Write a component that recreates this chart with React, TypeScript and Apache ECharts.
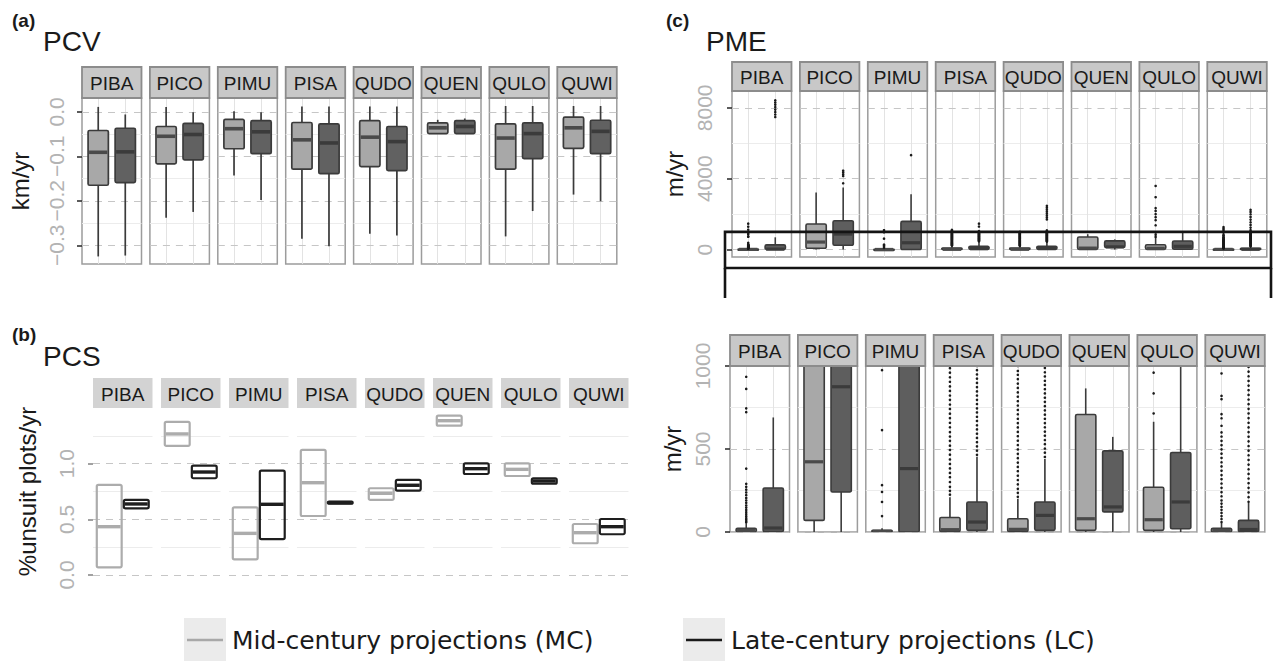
import React, { useEffect, useRef } from "react";
import * as echarts from "echarts";

const species = ["PIBA", "PICO", "PIMU", "PISA", "QUDO", "QUEN", "QULO", "QUWI"];

// (a) PCV, km/yr: [lower whisker, Q1, median, Q3, upper whisker]
const pcvMC = [
  [-0.325, -0.165, -0.091, -0.042, 0.011],
  [-0.238, -0.117, -0.055, -0.033, 0.011],
  [-0.143, -0.083, -0.038, -0.017, 0.001],
  [-0.285, -0.129, -0.063, -0.024, 0.012],
  [-0.274, -0.123, -0.057, -0.02, 0.012],
  [-0.05, -0.049, -0.036, -0.025, -0.018],
  [-0.28, -0.129, -0.059, -0.027, 0.013],
  [-0.186, -0.082, -0.036, -0.012, 0.013],
];
const pcvLC = [
  [-0.323, -0.159, -0.09, -0.037, -0.006],
  [-0.225, -0.108, -0.051, -0.026, -0.001],
  [-0.198, -0.094, -0.045, -0.02, -0.001],
  [-0.302, -0.139, -0.07, -0.027, 0.012],
  [-0.278, -0.132, -0.067, -0.033, 0.012],
  [-0.05, -0.049, -0.033, -0.02, -0.015],
  [-0.223, -0.105, -0.049, -0.025, 0.013],
  [-0.201, -0.094, -0.044, -0.019, 0.013],
];

// (b) PCS, %unsuit plots/yr: [lower, middle, upper]
const pcsMC = [
  [0.069, 0.434, 0.809],
  [1.159, 1.267, 1.375],
  [0.141, 0.374, 0.608],
  [0.53, 0.829, 1.123],
  [0.674, 0.734, 0.779],
  [1.341, 1.386, 1.431],
  [0.889, 0.949, 1.003],
  [0.285, 0.38, 0.458],
];
const pcsLC = [
  [0.599, 0.638, 0.674],
  [0.869, 0.925, 0.982],
  [0.323, 0.635, 0.937],
  [0.64, 0.65, 0.66],
  [0.758, 0.806, 0.854],
  [0.907, 0.955, 1.003],
  [0.82, 0.845, 0.869],
  [0.366, 0.434, 0.503],
];

// (c) PME, m/yr: [lower whisker, Q1, median, Q3, upper whisker]
const pmeMC = [
  [0, 2, 10, 22, 52],
  [0, 70, 423, 1440, 3215],
  [0, 1, 4, 10, 22],
  [0, 3, 14, 87, 210],
  [0, 3, 16, 80, 200],
  [0, 10, 80, 708, 865],
  [0, 10, 74, 270, 664],
  [0, 1, 10, 22, 55],
];
const pmeLC = [
  [0, 3, 24, 265, 690],
  [0, 241, 875, 1627, 3500],
  [0, 0, 382, 1590, 3125],
  [0, 10, 60, 181, 453],
  [0, 10, 100, 181, 440],
  [0, 121, 151, 489, 573],
  [0, 20, 181, 479, 1010],
  [0, 2, 15, 70, 175],
];
const pmeOutMC = [
  [58, 66, 75, 84, 95, 108, 120, 133, 147, 160, 176, 190, 205, 222, 238, 255, 272, 290, 382, 722, 745, 862, 935, 1120, 1290, 1460],
  [],
  [96, 181, 241, 282, 614, 975, 1090],
  [225, 248, 272, 301, 330, 356, 383, 410, 437, 466, 494, 520, 549, 575, 602, 631, 658, 686, 713, 741, 768, 796, 822, 850, 877, 905, 932, 960, 987, 1020, 1065, 1110],
  [212, 236, 260, 287, 313, 339, 366, 392, 418, 445, 471, 497, 524, 550, 577, 603, 630, 656, 682, 709, 735, 762, 788, 815, 841, 868, 894, 921, 947, 970, 1000],
  [],
  [714, 835, 960, 1370, 1660, 1830, 2000, 2180, 2340, 2955, 3590],
  [60, 78, 96, 115, 134, 152, 171, 190, 215, 240, 266, 292, 318, 343, 369, 395, 420, 446, 472, 498, 523, 549, 575, 600, 640, 685, 710, 800, 820, 955, 1090, 1180, 1270],
];
const pmeOutLC = [
  [7480, 7620, 7760, 7900, 8040, 8180, 8300, 8420],
  [3740, 4150, 4250, 4350, 4450],
  [5330],
  [465, 490, 516, 541, 567, 592, 618, 643, 669, 694, 720, 745, 771, 796, 822, 847, 873, 898, 924, 949, 975, 1000, 1040, 1300, 1460],
  [452, 478, 503, 529, 554, 580, 605, 631, 656, 682, 707, 733, 758, 784, 809, 835, 860, 886, 911, 937, 962, 988, 1020, 1080, 1700, 1810, 1920, 2030, 2140, 2250, 2360, 2470],
  [],
  [],
  [182, 210, 238, 266, 294, 322, 350, 378, 406, 434, 462, 490, 518, 546, 574, 602, 630, 658, 686, 714, 742, 770, 798, 826, 854, 882, 910, 938, 966, 994, 1090, 1240, 1390, 1540, 1690, 1840, 1990, 2120, 2240],
];

const pcvTicks = [-0.3, -0.2, -0.1, 0];
const pcvMinor = [-0.25, -0.15, -0.05];
const pcsTicks = [0, 0.5, 1];
const pcsMinor = [0.25, 0.75, 1.25];
const pmeTopTicks = [0, 4000, 8000];
const pmeTopMinor = [2000, 6000];
const pmeBotTicks = [0, 500, 1000];
const pmeBotMinor = [250, 750];
const pmeZoomLimit = 1000;

const legendLabels = ["Mid-century projections (MC)", "Late-century projections (LC)"];

const FONT = '"Liberation Sans", Arial, sans-serif';
const LFONT = '"DejaVu Sans", Verdana, sans-serif';

const fmt1 = (v: number) => (v < -1e-9 ? "\u2212" : "") + Math.abs(v).toFixed(1);
const fmt0 = (v: number) => String(Math.round(v));

const boxA = { bw: 0.75, whisker: true, fill: ["#a8a8a8", "#616161"], stroke: ["#3b3b3b", "#3b3b3b"], med: ["#4a4a4a", "#3b3b3b"], lw: 1.7, medW: 3.6 };
const boxB = { bw: 0.92, whisker: false, fill: ["none", "none"], stroke: ["#acacac", "#1e1e1e"], med: ["#acacac", "#1e1e1e"], lw: 2.2, medW: 3.4 };
const boxC = { bw: 0.75, whisker: true, fill: ["#a8a8a8", "#5e5e5e"], stroke: ["#3b3b3b", "#3b3b3b"], med: ["#4a4a4a", "#3b3b3b"], lw: 1.6, medW: 3.2 };

const toFive = (r: number[]) => [r[0], r[0], r[1], r[2], r[2]];

const panels: any[] = [
  { left0: 82, step: 67.9, w: 59.5, stripTop: 67, stripH: 31, top: 98, h: 166, min: -0.342, max: 0.031,
    ticks: pcvTicks, minor: pcvMinor, fmt: fmt1, name: "km/yr", nameGap: 50, margin: 15,
    border: true, vert: true, flatStrip: false, tickColor: "#333", mc: pcvMC, lc: pcvLC, box: boxA },
  { left0: 93, step: 68, w: 59.5, stripTop: 378, stripH: 30, top: 408, h: 167, min: 0, max: 1.5,
    ticks: pcsTicks, minor: pcsMinor, fmt: fmt1, name: "%unsuit plots/yr", nameGap: 54, margin: 16,
    border: false, vert: false, flatStrip: true, tickColor: "#8a8a8a", mc: pcsMC.map(toFive), lc: pcsLC.map(toFive), box: boxB },
  { left0: 732, step: 67.9, w: 59.5, stripTop: 62, stripH: 29, top: 91, h: 166, min: -421, max: 8950,
    ticks: pmeTopTicks, minor: pmeTopMinor, fmt: fmt0, name: "m/yr", nameGap: 46, margin: 17,
    border: true, vert: true, flatStrip: false, tickColor: "#333", mc: pmeMC, lc: pmeLC, box: boxC, out: true },
  { left0: 730, step: 67.9, w: 59.5, stripTop: 335, stripH: 31, top: 366, h: 166, min: 0, max: 1000,
    ticks: pmeBotTicks, minor: pmeBotMinor, fmt: fmt0, name: "m/yr", nameGap: 46, margin: 17,
    border: true, vert: true, flatStrip: false, tickColor: "#333", mc: pmeMC, lc: pmeLC, box: boxC, out: true },
];

function makeRender(cfg: any) {
  return (params: any, api: any) => {
    const i = params.dataIndex;
    const x = api.value(0);
    const lo = api.coord([x, api.value(1)]);
    const q1 = api.coord([x, api.value(2)]);
    const md = api.coord([x, api.value(3)]);
    const q3 = api.coord([x, api.value(4)]);
    const hi = api.coord([x, api.value(5)]);
    const w = api.size([cfg.bw, 0])[0];
    const cx = q1[0];
    const children: any[] = [];
    if (cfg.whisker) {
      children.push({ type: "line", shape: { x1: cx, y1: lo[1], x2: cx, y2: q1[1] }, style: { stroke: cfg.stroke[i], lineWidth: cfg.lw } });
      children.push({ type: "line", shape: { x1: cx, y1: q3[1], x2: cx, y2: hi[1] }, style: { stroke: cfg.stroke[i], lineWidth: cfg.lw } });
    }
    children.push({ type: "rect", shape: { x: cx - w / 2, y: q3[1], width: w, height: Math.max(q1[1] - q3[1], 1), r: 1.5 },
      style: { fill: cfg.fill[i], stroke: cfg.stroke[i], lineWidth: cfg.lw } });
    children.push({ type: "line", shape: { x1: cx - w / 2 + 1, y1: md[1], x2: cx + w / 2 - 1, y2: md[1] }, style: { stroke: cfg.med[i], lineWidth: cfg.medW } });
    return { type: "group", children };
  };
}

function buildOption() {
  const grid: any[] = [];
  const xAxis: any[] = [];
  const yAxis: any[] = [];
  const series: any[] = [];
  const graphic: any[] = [];

  panels.forEach((p, pi) => {
    species.forEach((sp, i) => {
      const gi = pi * 8 + i;
      const left = p.left0 + i * p.step;
      grid.push({ left, top: p.top, width: p.w, height: p.h, show: p.border, borderColor: "#9c9c9c", borderWidth: 1.5,
        backgroundColor: "transparent", outerBoundsMode: "none", containLabel: false });
      xAxis.push({ type: "value", gridIndex: gi, min: 0.4, max: 2.6, show: false });
      const first = i === 0;
      yAxis.push({
        type: "value", gridIndex: gi, min: p.min, max: p.max,
        axisLine: { show: false },
        splitLine: { show: false },
        axisTick: { show: first, length: 5, lineStyle: { color: p.tickColor, width: 1.6 }, customValues: p.ticks },
        axisLabel: { show: first, rotate: 90, customValues: p.ticks, formatter: p.fmt, color: "#b3b3b3",
          fontSize: 21, fontFamily: FONT, margin: p.margin },
        name: first ? p.name : "", nameLocation: "middle", nameGap: p.nameGap, nameRotate: 90, nameMoveOverlap: false,
        nameTextStyle: { fontSize: 24, color: "#1a1a1a", fontFamily: FONT },
      });
      const lines: any[] = [];
      p.minor.forEach((v: number) => lines.push({ yAxis: v, lineStyle: { color: "#ececec", type: "solid", width: 1 } }));
      if (p.vert) [1, 2].forEach((v) => lines.push({ xAxis: v, lineStyle: { color: "#e3e3e3", type: "solid", width: 1 } }));
      p.ticks.forEach((v: number) => lines.push({ yAxis: v, lineStyle: { color: "#c6c6c6", type: [7, 6], width: 1.1 } }));
      series.push({
        type: "custom", xAxisIndex: gi, yAxisIndex: gi, clip: true, z: 3, silent: true,
        renderItem: makeRender(p.box),
        encode: { x: 0, y: [1, 2, 3, 4, 5] },
        data: [[1, ...p.mc[i]], [2, ...p.lc[i]]],
        markLine: { silent: true, z: 1, symbol: ["none", "none"], label: { show: false }, emphasis: { disabled: true },
          animation: false, data: lines },
      });
      if (p.out) {
        const pts = [...pmeOutMC[i].map((v) => [1, v]), ...pmeOutLC[i].map((v) => [2, v])];
        if (pts.length) {
          series.push({ type: "scatter", xAxisIndex: gi, yAxisIndex: gi, data: pts, symbolSize: 2.6, z: 4, silent: true,
            clip: true, itemStyle: { color: "#1a1a1a", opacity: 1 } });
        }
      }
      // facet strip
      graphic.push({ type: "rect", silent: true, z: 10,
        shape: { x: left, y: p.stripTop, width: p.w, height: p.stripH },
        style: p.flatStrip ? { fill: "#d3d3d3" } : { fill: "#c8c8c8", stroke: "#8c8c8c", lineWidth: 1.8 } });
      graphic.push({ type: "text", silent: true, z: 11, x: left + p.w / 2, y: p.stripTop + p.stripH / 2 + 1,
        style: { text: sp, align: "center", verticalAlign: "middle", font: `19px ${FONT}`, fill: "#1a1a1a" } });
    });
  });

  // panel titles
  const titles = [
    { t: "(a)", x: 12, y: 11, bold: true }, { t: "PCV", x: 43, y: 27, bold: false },
    { t: "(b)", x: 12, y: 325, bold: true }, { t: "PCS", x: 43, y: 342, bold: false },
    { t: "(c)", x: 666, y: 11, bold: true }, { t: "PME", x: 706, y: 27, bold: false },
  ];
  titles.forEach((o) => graphic.push({ type: "text", silent: true, left: o.x, top: o.y,
    style: { text: o.t, font: o.bold ? `bold 19px ${FONT}` : `28px ${FONT}`, fill: "#1a1a1a" } }));

  // zoom indicator: box around 0..1000 in the upper PME panel
  const pc = panels[2];
  const yAt = (v: number) => pc.top + ((pc.max - v) / (pc.max - pc.min)) * pc.h;
  const rx0 = 725, rx1 = 1271, ry0 = yAt(pmeZoomLimit), ry1 = 268, ry2 = 298;
  graphic.push({ type: "rect", silent: true, z: 20, shape: { x: rx0, y: ry0, width: rx1 - rx0, height: ry1 - ry0 },
    style: { fill: "none", stroke: "#141414", lineWidth: 2.6 } });
  graphic.push({ type: "line", silent: true, z: 20, shape: { x1: rx0, y1: ry1, x2: rx0, y2: ry2 }, style: { stroke: "#141414", lineWidth: 2.6 } });
  graphic.push({ type: "line", silent: true, z: 20, shape: { x1: rx1, y1: ry1, x2: rx1, y2: ry2 }, style: { stroke: "#141414", lineWidth: 2.6 } });

  // legend
  const legendX = [184, 683];
  const legendColors = ["#a8a8a8", "#1a1a1a"];
  legendLabels.forEach((lab, k) => {
    const x = legendX[k];
    graphic.push({ type: "rect", silent: true, shape: { x, y: 618, width: 42, height: 43 }, style: { fill: "#ebebeb" } });
    graphic.push({ type: "line", silent: true, shape: { x1: x + 3, y1: 640, x2: x + 39, y2: 640 }, style: { stroke: legendColors[k], lineWidth: 2.6 } });
    graphic.push({ type: "text", silent: true, x: x + 48, y: 640,
      style: { text: lab, align: "left", verticalAlign: "middle", font: `25px ${LFONT}`, fill: "#1a1a1a" } });
  });

  return { animation: false, backgroundColor: "#ffffff", textStyle: { fontFamily: FONT }, grid, xAxis, yAxis, series, graphic };
}

export default function App() {
  const ref = useRef<HTMLDivElement>(null);
  useEffect(() => {
    document.body.style.margin = "0";
    const chart = echarts.init(ref.current as HTMLDivElement, null, { renderer: "svg" });
    chart.setOption(buildOption() as any);
    return () => chart.dispose();
  }, []);
  return <div ref={ref} style={{ width: 1277, height: 661 }} />;
}
